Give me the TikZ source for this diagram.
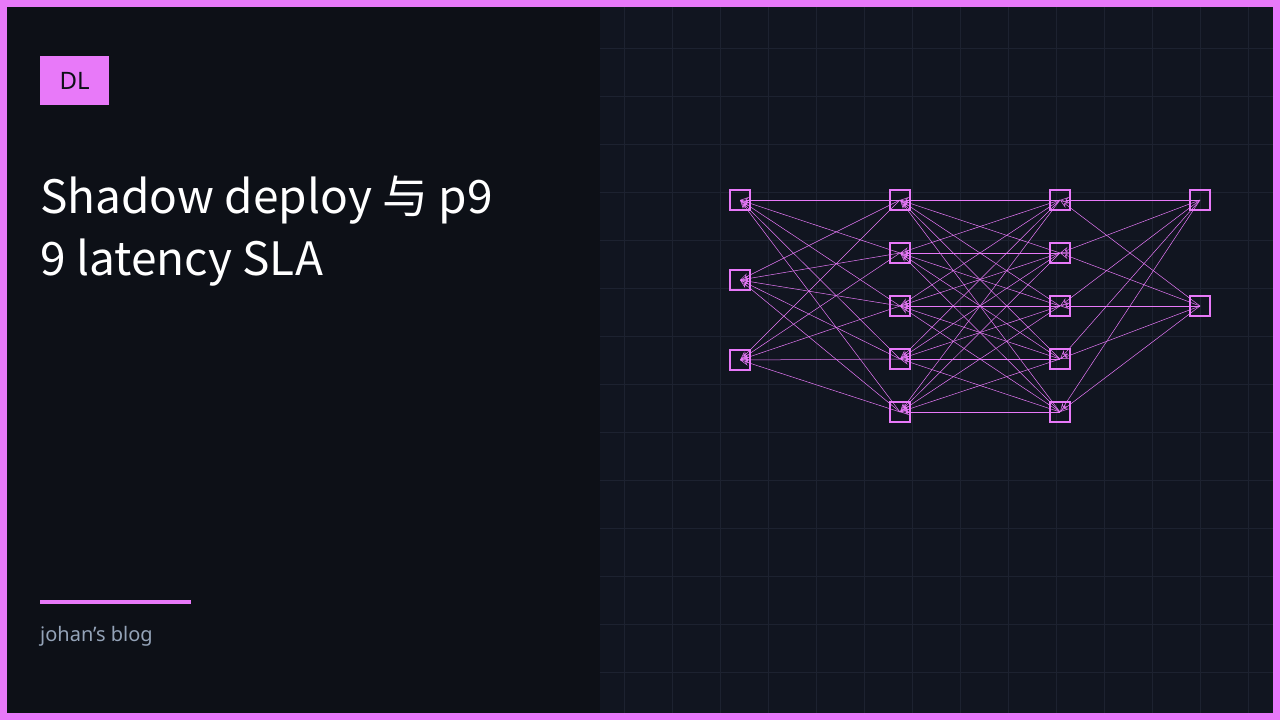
\documentclass[tikz,border=0pt]{standalone}
\usepackage{fontspec}
\setmainfont{Noto Sans}
\newfontfamily\cjk{Noto Sans CJK SC}
\usetikzlibrary{arrows.meta,positioning}
\definecolor{rosa}{HTML}{E879F9}
\definecolor{fondoIzq}{HTML}{0D1017}
\definecolor{fondoDer}{HTML}{111520}
\definecolor{rejilla}{HTML}{1D2230}
\definecolor{grisTexto}{HTML}{94A3B8}
\tikzset{
  neuron/.style={rectangle, draw=rosa, line width=1.5pt, minimum size=20pt,
                 inner sep=0pt, outer sep=0pt},
  conn/.style={rosa, line width=0.5pt, {Stealth[open,length=9pt,width=6pt]}-}
}
\begin{document}
\begin{tikzpicture}[x=1pt,y=-1pt]
    \useasboundingbox (0,0) rectangle (1280,720);
    \fill[rosa] (0,0) rectangle (1280,720);
    \fill[fondoIzq] (7,7) rectangle (1273,713);
    \fill[fondoDer] (600,7) rectangle (1273,713);
    \foreach \x in {624,672,...,1272}
        \draw[rejilla, line width=1pt] (\x,7) -- (\x,713);
    \foreach \y in {48,96,...,712}
        \draw[rejilla, line width=1pt] (600,\y) -- (1273,\y);

    % etiqueta y titulo
    \node (tag) [fill=rosa, minimum width=69pt, minimum height=49pt, anchor=north west,
        inner sep=0pt, font=\fontsize{24}{24}\selectfont, text=fondoIzq] at (40,56) {\raisebox{-6pt}{DL}};
    \node (titulo) [anchor=north west, text=white, align=left, inner sep=0pt,
        font=\cjk\fontsize{46}{62}\selectfont] at (40,176) {Shadow deploy 与 p9\\9 latency SLA};
    \draw[rosa, line width=4pt] (40,602) -- (191,602);
    \node (blog) [anchor=west, text=grisTexto, inner sep=0pt,
        font=\fontsize{20}{20}\selectfont] at (40,636) {johan's blog};

    % red
    \foreach \j/\y in {1/200,2/280,3/360}
        \node (a\j) [neuron] at (740,\y) {};
    \foreach \j/\y in {1/200,2/253,3/306,4/359,5/412}
        \node (b\j) [neuron] at (900,\y) {};
    \foreach \j/\y in {1/200,2/253,3/306,4/359,5/412}
        \node (c\j) [neuron] at (1060,\y) {};
    \foreach \j/\y in {1/200,2/306}
        \node (d\j) [neuron] at (1200,\y) {};

    \foreach \i in {1,2,3}
        \foreach \j in {1,...,5}
            \draw [conn] (a\i.center) -- (b\j.center);
    \foreach \i in {1,...,5}
        \foreach \j in {1,...,5}
            \draw [conn] (b\i.center) -- (c\j.center);
    \foreach \i in {1,...,5}
        \foreach \j in {1,2}
            \draw [conn] (c\i.center) -- (d\j.center);
\end{tikzpicture}
\end{document}
